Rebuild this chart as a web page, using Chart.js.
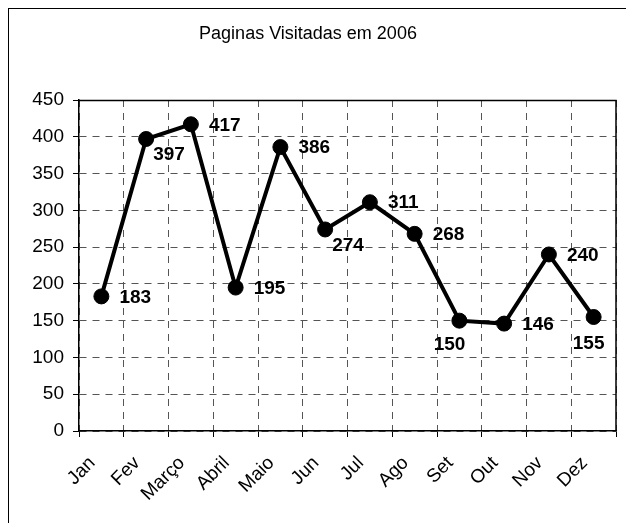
<!DOCTYPE html>
<html>
<head>
<meta charset="utf-8">
<script src="https://cdn.jsdelivr.net/npm/chart.js@4.4.0/dist/chart.umd.min.js"></script>
<style>
  html, body { margin: 0; padding: 0; background: #fff; }
</style>
</head>
<body>
<canvas id="visits-chart" width="626" height="523"></canvas>
<script>
const months = ["Jan", "Fev", "Março", "Abril", "Maio", "Jun", "Jul", "Ago", "Set", "Out", "Nov", "Dez"];
const pageViews = [183, 397, 417, 195, 386, 274, 311, 268, 150, 146, 240, 155];
const yMin = 0;
const yMax = 450;
const yStep = 50;
const chartTitle = "Paginas Visitadas em 2006";

// where each value label sits next to its point
const labelSpots = ["right", "belowRight", "right", "right", "right", "belowRight",
  "right", "right", "belowLeft", "right", "right", "below"];

Chart.defaults.font.family = "'Liberation Sans', Arial, sans-serif";
Chart.defaults.color = "#000";

const framePlugin = {
  id: "frame",
  beforeDraw(chart) {
    const ctx = chart.ctx;
    ctx.save();
    ctx.fillStyle = "#fff";
    ctx.fillRect(0, 0, chart.width, chart.height);
    ctx.strokeStyle = "#000";
    ctx.lineWidth = 1;
    ctx.strokeRect(8.5, 8.5, 700, 600);
    ctx.restore();
  },
  beforeDatasetsDraw(chart) {
    const a = chart.chartArea;
    const ctx = chart.ctx;
    ctx.save();
    ctx.strokeStyle = "#000";
    ctx.lineWidth = 1.5;
    ctx.beginPath();
    ctx.moveTo(a.left, Math.round(a.top) + 0.5);
    ctx.lineTo(a.right, Math.round(a.top) + 0.5);
    ctx.lineTo(a.right, a.bottom);
    ctx.stroke();
    ctx.restore();
  },
};

const valueLabels = {
  id: "valueLabels",
  afterDatasetsDraw(chart) {
    const ctx = chart.ctx;
    const pts = chart.getDatasetMeta(0).data;
    ctx.save();
    ctx.font = "bold 19px 'Liberation Sans', Arial, sans-serif";
    ctx.fillStyle = "#000";
    pts.forEach((p, i) => {
      const txt = String(pageViews[i]);
      const spot = labelSpots[i];
      ctx.textBaseline = "middle";
      if (spot === "right") {
        ctx.textAlign = "left";
        ctx.fillText(txt, p.x + 18, p.y + 1);
      } else if (spot === "belowRight") {
        ctx.textAlign = "left";
        ctx.fillText(txt, p.x + 7, p.y + 16);
      } else if (spot === "belowLeft") {
        ctx.textAlign = "right";
        ctx.fillText(txt, p.x + 6, p.y + 24);
      } else {
        ctx.textAlign = "center";
        ctx.fillText(txt, p.x - 5, p.y + 27);
      }
    });
    ctx.restore();
  },
};

const visitsChart = new Chart(document.getElementById("visits-chart"), {
  type: "line",
  data: {
    labels: months,
    datasets: [
      {
        label: chartTitle,
        data: pageViews,
        borderColor: "#000",
        borderWidth: 4,
        pointRadius: 7.5,
        pointBackgroundColor: "#000",
        pointBorderColor: "#000",
        pointBorderWidth: 1,
        tension: 0,
        clip: false,
      },
    ],
  },
  plugins: [framePlugin, valueLabels],
  options: {
    responsive: false,
    animation: false,
    devicePixelRatio: 1,
    layout: { padding: { left: 0, right: 10, top: 0, bottom: 0 } },
    plugins: {
      legend: { display: false },
      tooltip: { enabled: false },
      title: {
        display: true,
        text: chartTitle,
        color: "#000",
        font: { size: 18, weight: "normal" },
        padding: { top: 23, bottom: 55.4 },
      },
    },
    scales: {
      x: {
        offset: true,
        grid: { offset: true, color: "#555", tickColor: "#000", tickLength: 6, tickBorderDash: [] },
        border: { color: "#000", width: 1.5, dash: [7, 6] },
        ticks: {
          color: "#000",
          font: { size: 19 },
          minRotation: 45,
          maxRotation: 45,
          autoSkip: false,
          padding: 15,
          labelOffset: -9,
        },
        afterFit: (s) => { s.height = 92; },
      },
      y: {
        min: yMin,
        max: yMax,
        grid: { color: "#555", tickColor: "#000", tickLength: 6, tickBorderDash: [] },
        border: { color: "#000", width: 1.5, dash: [7, 6] },
        ticks: { stepSize: yStep, color: "#000", font: { size: 19 }, padding: 9 },
        afterFit: (s) => { s.width = 79; },
      },
    },
  },
});
</script>
</body>
</html>
